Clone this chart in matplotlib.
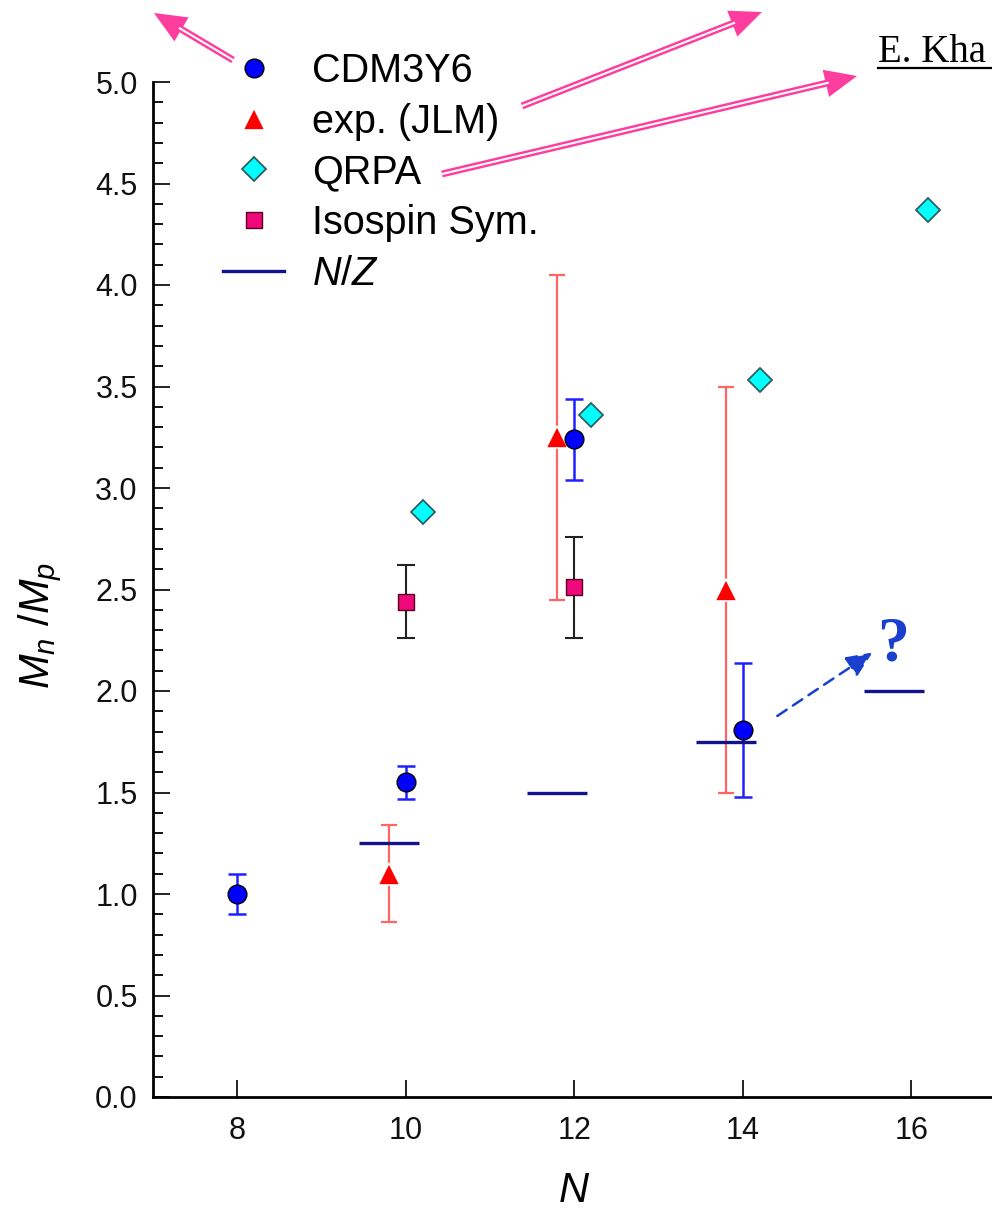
import numpy as np
import matplotlib
matplotlib.use("Agg")
import matplotlib.pyplot as plt
from matplotlib.lines import Line2D
from matplotlib.patches import FancyArrowPatch, ArrowStyle
from matplotlib.ticker import MultipleLocator, FormatStrFormatter

plt.rcParams['font.family'] = ['Liberation Sans', 'DejaVu Sans']
plt.rcParams['mathtext.fontset'] = 'custom'
plt.rcParams['mathtext.it'] = 'Liberation Sans:italic'
plt.rcParams['mathtext.rm'] = 'Liberation Sans'

# --- data ---
cdm_N = [8, 10, 12, 14]
cdm_val = [1.00, 1.55, 3.24, 1.81]
cdm_err = [0.10, 0.08, 0.20, 0.33]

jlm_N = [9.8, 11.8, 13.8]
jlm_val = [1.10, 3.25, 2.50]
jlm_err_lo = [0.24, 0.80, 1.00]
jlm_err_hi = [0.24, 0.80, 1.00]

qrpa_N = [10.2, 12.2, 14.2, 16.2]
qrpa_val = [2.88, 3.36, 3.53, 4.37]

iso_N = [10, 12]
iso_val = [2.44, 2.51]
iso_err = [0.18, 0.25]

nz_N = [9.8, 11.8, 13.8, 15.8]
nz_val = [1.25, 1.50, 1.75, 2.00]
nz_half = 0.355

x_ticks = [8, 10, 12, 14, 16]

# colours
c_blue = '#0000ff'
c_red = '#ff0000'
c_red_err = '#ff6565'
c_cyan = '#00ffff'
c_mag = '#f0077a'
c_navy = '#12128c'
c_pink = '#ff3d9e'
c_qblue = '#1a3fcf'

W, H = 992, 1212
fig = plt.figure(figsize=(W / 100, H / 100), dpi=100)
ax = fig.add_axes([153 / W, (H - 1097) / H, 842.5 / W, 1015 / H])
ax.set_xlim(7, 17)
ax.set_ylim(0, 5.0)

# error bars
ax.errorbar(jlm_N, jlm_val, yerr=[jlm_err_lo, jlm_err_hi], fmt='none',
            ecolor=c_red_err, elinewidth=1.6, capsize=6, capthick=1.6, zorder=2)
ax.errorbar(iso_N, iso_val, yerr=iso_err, fmt='none',
            ecolor='#222222', elinewidth=1.5, capsize=6.5, capthick=1.5, zorder=2)
ax.errorbar(cdm_N, cdm_val, yerr=cdm_err, fmt='none',
            ecolor='#2020ff', elinewidth=1.8, capsize=6.5, capthick=1.8, zorder=2)

# N/Z lines
ax.hlines(nz_val, np.array(nz_N) - nz_half, np.array(nz_N) + nz_half,
          colors=c_navy, linewidth=2.4, zorder=3)

# markers
ax.plot(jlm_N, jlm_val, ls='none', marker='^', ms=16, mfc=c_red, mec='white',
        mew=1.2, zorder=4)
ax.plot(iso_N, iso_val, ls='none', marker='s', ms=11, mfc=c_mag, mec='#550022',
        mew=1.0, zorder=4)
ax.plot(cdm_N, cdm_val, ls='none', marker='o', ms=13.5, mfc=c_blue, mec='black',
        mew=1.0, zorder=5)
ax.plot(qrpa_N, qrpa_val, ls='none', marker='D', ms=12.5, mfc=c_cyan, mec='#2f5f5f',
        mew=1.3, zorder=5)

# axes styling
for s in ['top', 'right']:
    ax.spines[s].set_visible(False)
for s in ['left', 'bottom']:
    ax.spines[s].set_linewidth(2.0)
ax.set_xticks(x_ticks)
ax.yaxis.set_major_locator(MultipleLocator(0.5))
ax.yaxis.set_minor_locator(MultipleLocator(0.1))
ax.yaxis.set_major_formatter(FormatStrFormatter('%.1f'))
ax.tick_params(axis='both', which='major', direction='in', length=12, width=1.3,
               labelsize=22, colors='#111111')
ax.tick_params(axis='x', which='major', pad=14)
ax.tick_params(axis='y', which='major', pad=11)
ax.tick_params(axis='y', which='minor', direction='in', length=7, width=1.3)

ax.set_xlabel('$N$', fontsize=30, labelpad=18)
ax.set_ylabel(r'$M_n\ /M_p$', fontsize=30)
ax.yaxis.set_label_coords(-0.106, 0.465)

# legend
handles = [
    Line2D([], [], ls='none', marker='o', ms=13.5, mfc=c_blue, mec='black', mew=1.0),
    Line2D([], [], ls='none', marker='^', ms=16, mfc=c_red, mec='white', mew=1.2),
    Line2D([], [], ls='none', marker='D', ms=12.5, mfc=c_cyan, mec='#2f5f5f', mew=1.3),
    Line2D([], [], ls='none', marker='s', ms=11, mfc=c_mag, mec='#550022', mew=1.0),
    Line2D([], [], color=c_navy, lw=2.4),
]
labels = ['CDM3Y6', 'exp. (JLM)', 'QRPA', 'Isospin Sym.', '$N/Z$']
fig.legend(handles, labels, loc='upper left', bbox_to_anchor=(223 / W, 1 - 52 / H),
           frameon=False, fontsize=28.5, borderpad=0, borderaxespad=0,
           handlelength=1.55, handletextpad=0.7, labelspacing=0.32)


# pink double-line arrows (figure pixels, origin bottom-left)
def double_arrow(start, tip):
    st = np.array(start, float)
    tp = np.array(tip, float)
    arr = FancyArrowPatch(st, tp, transform=None,
                          arrowstyle=ArrowStyle.Simple(head_length=2.3, head_width=2.0,
                                                       tail_width=0.5),
                          mutation_scale=10, color=c_pink, lw=0, shrinkA=0, shrinkB=0)
    fig.patches.append(arr)
    d = (tp - st) / np.hypot(*(tp - st))
    end = tp - d * 30
    fig.add_artist(Line2D([st[0] + d[0] * 1, end[0]], [st[1] + d[1] * 1, end[1]],
                          transform=None, color='white', lw=1.5))


double_arrow((233, H - 60), (154, H - 13))
double_arrow((522, H - 106), (762, H - 12))
double_arrow((442, H - 174), (857, H - 76))

# reference text (cut by the right edge in the original)
fig.text(878 / W, 1 - 62 / H, 'E. Kha', fontsize=28, family='Liberation Serif',
         va='baseline', ha='left', color='black')
fig.add_artist(Line2D([878 / W, 1.0], [1 - 68 / H, 1 - 68 / H],
                      transform=fig.transFigure, color='black', lw=1.6))

# question mark with dashed arrow
ax.annotate('', xy=(15.54, 2.19), xytext=(14.41, 1.877),
            arrowprops=dict(arrowstyle='-|>,head_length=0.8,head_width=0.35',
                            color=c_qblue, lw=1.8, ls=(0, (4.5, 3)),
                            shrinkA=0, shrinkB=0, mutation_scale=20))
ax.text(15.78, 2.15, '?', fontsize=46, family='Liberation Serif', weight='bold',
        color=c_qblue, ha='center', va='baseline')

fig.savefig('out.png', dpi=100)
